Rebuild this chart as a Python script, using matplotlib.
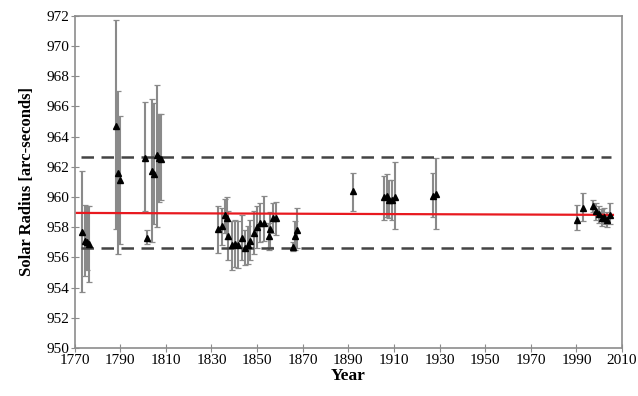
import numpy as np
import matplotlib
matplotlib.use("Agg")
import matplotlib.pyplot as plt

# Observações do raio solar (ano, valor, limite inferior e superior da barra de erro)
anos = [1773.1, 1774.6, 1775.5, 1776.5,
        1788.1, 1788.9, 1790.1,
        1800.9, 1801.9, 1803.7, 1805.0, 1805.9, 1806.9, 1807.9,
        1833.0, 1834.8, 1835.8, 1836.6, 1837.4, 1838.9, 1840.4, 1841.8, 1843.3,
        1844.7, 1845.8, 1846.9, 1848.7, 1849.9, 1851.3, 1852.8, 1855.0, 1855.7,
        1856.9, 1858.3,
        1865.9, 1866.8, 1867.4,
        1892.2,
        1905.8, 1906.9, 1908.0, 1909.3, 1910.5,
        1927.0, 1928.5,
        1990.4, 1992.8, 1997.2, 1998.6, 2000.1, 2001.1, 2002.1, 2003.3, 2004.8]
raio = [957.7, 957.1, 957.0, 956.9,
        964.7, 961.6, 961.1,
        962.6, 957.3, 961.7, 961.5, 962.8, 962.6, 962.5,
        957.9, 958.1, 958.8, 958.6, 957.4, 956.8, 956.9, 956.8, 957.3,
        956.6, 956.8, 957.1, 957.6, 958.0, 958.3, 958.3, 957.4, 957.9,
        958.6, 958.6,
        956.7, 957.4, 957.8,
        960.4,
        960.0, 960.1, 959.8, 959.8, 960.0,
        960.1, 960.2,
        958.5, 959.3, 959.4, 959.1, 958.9, 958.6, 958.7, 958.5, 958.8]
inf = [953.7, 954.8, 955.2, 954.4,
       957.9, 956.2, 956.9,
       959.1, 956.9, 957.0, 958.2, 958.0, 959.7, 959.8,
       956.3, 956.8, 957.6, 957.2, 955.8, 955.2, 955.4, 955.3, 955.8,
       955.5, 955.6, 955.8, 956.2, 956.6, 957.0, 957.1, 956.5, 956.7,
       957.6, 957.5,
       956.4, 956.5, 956.6,
       959.1,
       958.5, 958.7, 958.6, 958.5, 957.9,
       958.7, 957.9,
       957.8, 958.4, 959.0, 958.5, 958.3, 958.1, 958.2, 958.0, 958.2]
sup = [961.7, 959.5, 959.4, 959.4,
       971.7, 967.0, 965.4,
       966.3, 957.8, 966.5, 966.2, 967.4, 965.5, 965.5,
       959.4, 959.3, 959.9, 960.0, 959.1, 958.4, 958.5, 958.4, 958.8,
       957.8, 958.1, 958.5, 959.1, 959.4, 959.6, 960.1, 958.3, 959.0,
       959.6, 959.7,
       957.0, 958.4, 959.3,
       961.6,
       961.4, 961.5, 961.1, 961.1, 962.3,
       961.6, 962.6,
       959.5, 960.3, 959.8, 959.6, 959.4, 959.2, 959.3, 959.0, 959.6]

# Ajuste linear (extremos) e limites ±2σ
ajuste_anos = [1771, 2006]
ajuste_raio = [958.95, 958.82]
limite_anos = [1773, 2005]
limite_sup = 962.65
limite_inf = 956.65

plt.rcParams.update({"font.family": "Liberation Serif", "font.size": 11})

fig = plt.figure(figsize=(6.38, 3.96), dpi=100)
ax = fig.add_axes([0.117, 0.121, 0.858, 0.839])

x = np.array(anos); y = np.array(raio)
yerr = [y - np.array(inf), np.array(sup) - y]
ax.errorbar(x, y, yerr=yerr, fmt="none", ecolor="#8a8a8a", elinewidth=1.5,
            capsize=2, capthick=0.9, zorder=2)
ax.plot(x, y, ls="none", marker="^", ms=4.6, color="black", zorder=4)

ax.plot(ajuste_anos, ajuste_raio, color="#e8191f", lw=1.6, zorder=3)
ax.plot(limite_anos, [limite_sup] * 2, color="#444444", lw=1.8, ls=(0, (5, 3)), zorder=3)
ax.plot(limite_anos, [limite_inf] * 2, color="#444444", lw=1.8, ls=(0, (5, 3)), zorder=3)

ax.set_xlim(1770, 2010)
ax.set_ylim(950, 972)
ax.set_xticks(np.arange(1770, 2011, 20))
ax.set_yticks(np.arange(950, 973, 2))
for s in ax.spines.values():
    s.set_color("#8c8c8c"); s.set_linewidth(1.2)
ax.tick_params(direction="inout", length=6, color="#8c8c8c", width=0.8, labelsize=11, pad=1)
ax.set_xlabel("Year", fontsize=12.5, fontweight="bold", labelpad=1)
ax.set_ylabel("Solar Radius [arc-seconds]", fontsize=12, fontweight="bold", labelpad=8)

fig.savefig("out.png", dpi=100)
